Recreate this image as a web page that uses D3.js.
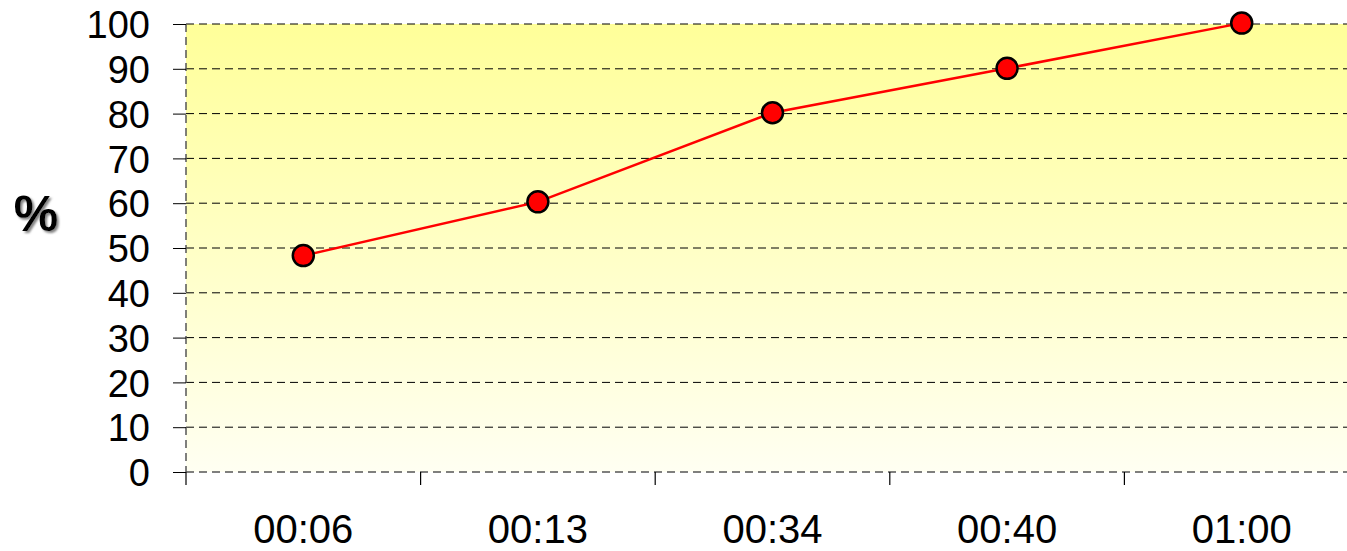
<!doctype html>
<html>
<head>
    <script src="https://d3js.org/d3.v7.min.js"></script>
    <style>
      body { margin: 0; background: #fff; }
      text { font-family: "Liberation Sans", Arial, sans-serif; }
    </style>
</head>
<body>
    <svg id="chart" width="1347" height="551"></svg>
    <script>
        // chart data
        const categories = ["00:06", "00:13", "00:34", "00:40", "01:00"];
        const percentValues = [48.3, 60.3, 80.2, 90.1, 100.2];
        const yTicks = [0, 10, 20, 30, 40, 50, 60, 70, 80, 90, 100];

        const margin = { top: 24, left: 186 };
        const width = 1173;
        const height = 448;

        const svg = d3.select("#chart");

        const defs = svg.append("defs");
        const grad = defs.append("linearGradient")
          .attr("id", "bg")
          .attr("x1", 0).attr("y1", 0).attr("x2", 0).attr("y2", 1);
        grad.append("stop").attr("offset", "0%").attr("stop-color", "#ffff99");
        grad.append("stop").attr("offset", "100%").attr("stop-color", "#fffff2");

        const filter = defs.append("filter").attr("id", "shadow");
        filter.append("feDropShadow")
          .attr("dx", 2).attr("dy", 2).attr("stdDeviation", 0.8)
          .attr("flood-color", "#777").attr("flood-opacity", 0.9);

        const g = svg.append("g")
          .attr("transform", `translate(${margin.left},${margin.top})`);

        const xScale = d3.scaleBand()
          .domain(categories)
          .range([0, width]);

        const yScale = d3.scaleLinear()
          .domain([0, 100])
          .range([height, 0]);

        // plot background
        g.append("rect")
          .attr("width", width)
          .attr("height", height)
          .attr("fill", "url(#bg)");

        // dashed grid lines
        g.append("g")
          .selectAll("line")
          .data(yTicks)
          .join("line")
          .attr("x1", 0)
          .attr("x2", width)
          .attr("y1", d => yScale(d))
          .attr("y2", d => yScale(d))
          .attr("stroke", d => d === 0 ? "#555" : "#000")
          .attr("stroke-width", d => d === 0 ? 1.5 : 1)
          .attr("stroke-dasharray", "8,5");

        // left border dashed
        g.append("line")
          .attr("x1", 0).attr("x2", 0)
          .attr("y1", 0).attr("y2", height)
          .attr("stroke", "#555")
          .attr("stroke-width", 1.5)
          .attr("stroke-dasharray", "8,5");

        // y axis
        const yAxis = d3.axisLeft(yScale)
          .tickValues(yTicks)
          .tickSize(13)
          .tickPadding(23);

        const yG = g.append("g").call(yAxis);
        yG.select(".domain").remove();
        yG.selectAll("text")
          .attr("font-size", 38)
          .attr("fill", "#000")
          .attr("dy", "0.36em");

        // x axis
        const xAxis = d3.axisBottom(xScale)
          .tickSize(0)
          .tickPadding(43);

        const xG = g.append("g")
          .attr("transform", `translate(0,${height})`)
          .call(xAxis);
        xG.select(".domain").remove();
        xG.selectAll("text")
          .attr("font-size", 40)
          .attr("fill", "#000");

        // category boundary ticks
        g.append("g")
          .selectAll("line")
          .data(categories)
          .join("line")
          .attr("x1", d => xScale(d))
          .attr("x2", d => xScale(d))
          .attr("y1", height)
          .attr("y2", height + 13)
          .attr("stroke", "#000")
          .attr("stroke-width", 1.2);

        // line
        const line = d3.line()
          .x((d, i) => xScale(categories[i]) + xScale.bandwidth() / 2)
          .y(d => yScale(d));

        g.append("path")
          .datum(percentValues)
          .attr("fill", "none")
          .attr("stroke", "#ff0000")
          .attr("stroke-width", 2.5)
          .attr("d", line);

        g.append("g")
          .selectAll("circle")
          .data(percentValues)
          .join("circle")
          .attr("cx", (d, i) => xScale(categories[i]) + xScale.bandwidth() / 2)
          .attr("cy", d => yScale(d))
          .attr("r", 10.5)
          .attr("fill", "#ff0000")
          .attr("stroke", "#000")
          .attr("stroke-width", 2.5);

        // y title
        svg.append("text")
          .attr("x", 36)
          .attr("y", 218)
          .attr("text-anchor", "middle")
          .attr("dominant-baseline", "middle")
          .attr("font-size", 50)
          .attr("font-weight", "bold")
          .attr("filter", "url(#shadow)")
          .text("%");
    </script>
</body>
</html>
